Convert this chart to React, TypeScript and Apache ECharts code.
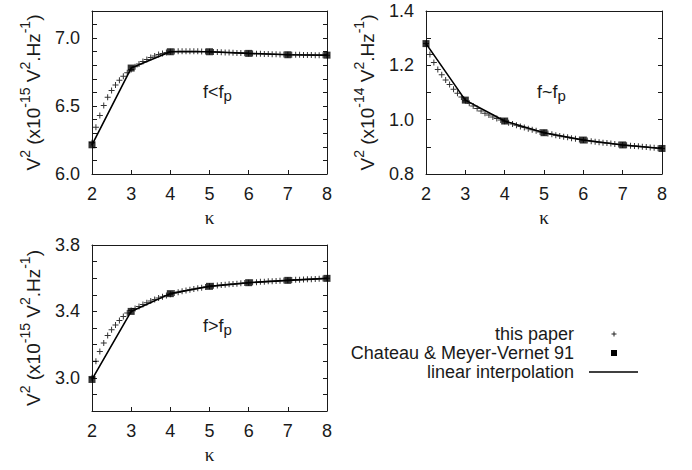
import React, { useEffect, useRef } from "react";
import * as echarts from "echarts";

// kappa grid of the "this paper" curve
const kappaFine = [
  2.0, 2.1, 2.2, 2.3, 2.4, 2.5, 2.6, 2.7, 2.8, 2.9,
  3.0, 3.1, 3.2, 3.3, 3.4, 3.5, 3.6, 3.7, 3.8, 3.9,
  4.0, 4.1, 4.2, 4.3, 4.4, 4.5, 4.6, 4.7, 4.8, 4.9,
  5.0, 5.1, 5.2, 5.3, 5.4, 5.5, 5.6, 5.7, 5.8, 5.9,
  6.0, 6.1, 6.2, 6.3, 6.4, 6.5, 6.6, 6.7, 6.8, 6.9,
  7.0, 7.1, 7.2, 7.3, 7.4, 7.5, 7.6, 7.7, 7.8, 7.9,
  8.0,
];
const kappaInt = [2, 3, 4, 5, 6, 7, 8];

// f < fp  (x1e-15)
const lowPaper = [
  6.23, 6.345, 6.43, 6.505, 6.565, 6.615, 6.655, 6.69, 6.72, 6.745,
  6.77, 6.79, 6.81, 6.828, 6.843, 6.857, 6.869, 6.879, 6.888, 6.895,
  6.9, 6.902, 6.903, 6.904, 6.904, 6.904, 6.904, 6.903, 6.902, 6.901,
  6.9, 6.899, 6.898, 6.896, 6.895, 6.894, 6.893, 6.891, 6.89, 6.889,
  6.888, 6.887, 6.886, 6.885, 6.884, 6.883, 6.882, 6.881, 6.88, 6.879,
  6.878, 6.878, 6.877, 6.877, 6.876, 6.876, 6.876, 6.875, 6.875, 6.875,
  6.875,
];
const lowChateau = [6.215, 6.78, 6.9, 6.9, 6.888, 6.878, 6.875];

// f ~ fp  (x1e-14)
const midPaper = [
  1.28, 1.24, 1.21, 1.185, 1.165, 1.146, 1.129, 1.112, 1.097, 1.083,
  1.07, 1.06, 1.05, 1.041, 1.032, 1.024, 1.017, 1.01, 1.004, 0.999,
  0.994, 0.989, 0.984, 0.979, 0.975, 0.971, 0.967, 0.963, 0.959, 0.955,
  0.952, 0.949, 0.946, 0.943, 0.94, 0.937, 0.935, 0.932, 0.93, 0.927,
  0.925, 0.923, 0.921, 0.919, 0.917, 0.915, 0.914, 0.912, 0.91, 0.909,
  0.907, 0.906, 0.904, 0.903, 0.902, 0.9, 0.899, 0.898, 0.897, 0.895,
  0.894,
];
const midChateau = [1.28, 1.072, 0.995, 0.952, 0.925, 0.907, 0.894];

// f > fp  (x1e-15)
const highPaper = [
  3.0, 3.1, 3.158, 3.21, 3.255, 3.29, 3.318, 3.345, 3.37, 3.39,
  3.405, 3.418, 3.43, 3.442, 3.452, 3.462, 3.471, 3.48, 3.488, 3.496,
  3.503, 3.511, 3.516, 3.521, 3.526, 3.531, 3.535, 3.539, 3.543, 3.547,
  3.551, 3.554, 3.556, 3.559, 3.561, 3.563, 3.565, 3.567, 3.569, 3.571,
  3.573, 3.575, 3.576, 3.578, 3.579, 3.581, 3.582, 3.583, 3.585, 3.586,
  3.587, 3.589, 3.59, 3.591, 3.592, 3.593, 3.594, 3.595, 3.596, 3.598,
  3.599,
];
const highChateau = [2.99, 3.4, 3.507, 3.551, 3.573, 3.587, 3.599];

const panelLabels = ["f<f", "f~f", "f>f"];
const yExponents = ["-15", "-14", "-15"];
const legendLabels = ["this paper", "Chateau & Meyer-Vernet 91", "linear interpolation"];
const xTitle = "κ";

const SANS = "'Liberation Sans', Arial, Helvetica, sans-serif";
const SERIF = "'Liberation Serif', 'Times New Roman', serif";
const INK = "#1a1a1a";
const PLUS = "path://M2.5,0H3.5V2.5H6V3.5H3.5V6H2.5V3.5H0V2.5H2.5Z";

export default function App() {
  const ref = useRef<HTMLDivElement>(null);

  useEffect(() => {
    document.body.style.margin = "0";
    const chart = echarts.init(ref.current!, null, { renderer: "svg" });

    const panels = [
      { paper: lowPaper, chateau: lowChateau, min: 6.0, max: 7.2, base: 6.0, step: 0.5,
        grid: { left: 92, top: 11, width: 235, height: 163 } },
      { paper: midPaper, chateau: midChateau, min: 0.8, max: 1.4, base: 0.8, step: 0.2,
        grid: { left: 426, top: 11, width: 236, height: 163 } },
      { paper: highPaper, chateau: highChateau, min: 2.8, max: 3.8, base: 3.0, step: 0.4,
        grid: { left: 92, top: 245, width: 235, height: 166 } },
    ];

    const grid: any[] = [];
    const xAxis: any[] = [];
    const yAxis: any[] = [];
    const series: any[] = [];
    const graphic: any[] = [];

    const lineStyle = { color: INK, width: 1 };

    panels.forEach((p, i) => {
      grid.push({ ...p.grid, show: false, containLabel: false, outerBoundsMode: "none" });
      const xBase = {
        gridIndex: i, type: "value", min: 2, max: 8, interval: 1,
        axisLine: { show: true, onZero: false, lineStyle },
        splitLine: { show: false },
      };
      xAxis.push({
        ...xBase, position: "bottom",
        axisTick: { show: true, inside: true, length: 4, lineStyle },
        axisLabel: { fontSize: 18, color: INK, fontFamily: SANS, margin: 11 },
      });
      xAxis.push({
        ...xBase, position: "top",
        axisTick: { show: false },
        axisLabel: { show: false },
      });
      const yBase = {
        gridIndex: i, type: "value", min: p.min, max: p.max, interval: 0.1,
        axisLine: { show: true, onZero: false, lineStyle },
        splitLine: { show: false },
      };
      yAxis.push({
        ...yBase, position: "left",
        axisTick: { show: true, inside: true, length: 5, lineStyle },
        axisLabel: {
          fontSize: 18, color: INK, fontFamily: SANS, margin: 12,
          showMinLabel: true, showMaxLabel: true, hideOverlap: false,
          formatter: (v: number) => {
            const r = (v - p.base) / p.step;
            return Math.abs(r - Math.round(r)) < 1e-6 && r > -1e-6 ? v.toFixed(1) : "";
          },
        },
      });
      yAxis.push({
        ...yBase, position: "right",
        axisTick: { show: true, inside: true, length: 4, lineStyle },
        axisLabel: { show: false },
      });

      series.push({
        name: legendLabels[0], type: "scatter", xAxisIndex: 2 * i, yAxisIndex: 2 * i,
        data: kappaFine.map((k, j) => [k, p.paper[j]]),
        symbol: PLUS, symbolSize: 6, itemStyle: { color: "#000" }, z: 2,
      });
      series.push({
        name: legendLabels[2], type: "line", xAxisIndex: 2 * i, yAxisIndex: 2 * i,
        data: kappaInt.map((k, j) => [k, p.chateau[j]]),
        symbol: "none", lineStyle: { color: "#000", width: 1.6 }, z: 3,
      });
      series.push({
        name: legendLabels[1], type: "scatter", xAxisIndex: 2 * i, yAxisIndex: 2 * i,
        data: kappaInt.map((k, j) => [k, p.chateau[j]]),
        symbol: "rect", symbolSize: 7, itemStyle: { color: "#000" }, z: 4,
      });

      const g = p.grid;
      // x title
      graphic.push({
        type: "text", x: g.left + g.width / 2, y: g.top + g.height + 43,
        style: { text: xTitle, font: `19px ${SERIF}`, fill: INK, align: "center", verticalAlign: "middle" },
      });
      // y title
      graphic.push({
        type: "text", x: g.left - 62, y: g.top + g.height / 2, rotation: Math.PI / 2,
        style: {
          text: `{n|V}{s|2}{n| (x10}{s|${yExponents[i]}}{n| V}{s|2}{n|.Hz}{s|-1}{n|)}`,
          align: "center", verticalAlign: "middle",
          rich: {
            n: { fontSize: 19, fontFamily: SANS, fill: INK, lineHeight: 25, verticalAlign: "bottom" },
            s: { fontSize: 14, fontFamily: SANS, fill: INK, lineHeight: 14, verticalAlign: "top" },
          },
        },
      });
      // panel annotation
      graphic.push({
        type: "text", x: g.left + 111, y: g.top + 82,
        style: {
          text: `{n|${panelLabels[i]}}{b|p}`,
          align: "left", verticalAlign: "middle",
          rich: {
            n: { fontSize: 18, fontFamily: SANS, fill: INK, lineHeight: 20, verticalAlign: "top" },
            b: { fontSize: 15, fontFamily: SANS, fill: INK, lineHeight: 10, verticalAlign: "bottom" },
          },
        },
      });
    });

    // legend
    const legendY = [334, 353, 372];
    legendLabels.forEach((t, i) => {
      graphic.push({
        type: "text", x: 574, y: legendY[i],
        style: { text: t, font: `18px ${SANS}`, fill: INK, align: "right", verticalAlign: "middle" },
      });
    });
    graphic.push({ type: "line", shape: { x1: 611.5, y1: legendY[0], x2: 616.5, y2: legendY[0] }, style: { stroke: "#222", lineWidth: 1 } });
    graphic.push({ type: "line", shape: { x1: 614, y1: legendY[0] - 2.5, x2: 614, y2: legendY[0] + 2.5 }, style: { stroke: "#222", lineWidth: 1 } });
    graphic.push({ type: "rect", shape: { x: 611, y: legendY[1] - 3, width: 6, height: 6 }, style: { fill: "#000" } });
    graphic.push({ type: "line", shape: { x1: 589, y1: legendY[2], x2: 638, y2: legendY[2] }, style: { stroke: "#000", lineWidth: 1.6 } });

    chart.setOption({
      animation: false,
      backgroundColor: "#fff",
      grid, xAxis, yAxis, series, graphic,
    });

    return () => chart.dispose();
  }, []);

  return <div ref={ref} style={{ position: "fixed", left: 0, top: 0, width: 692, height: 470 }} />;
}
